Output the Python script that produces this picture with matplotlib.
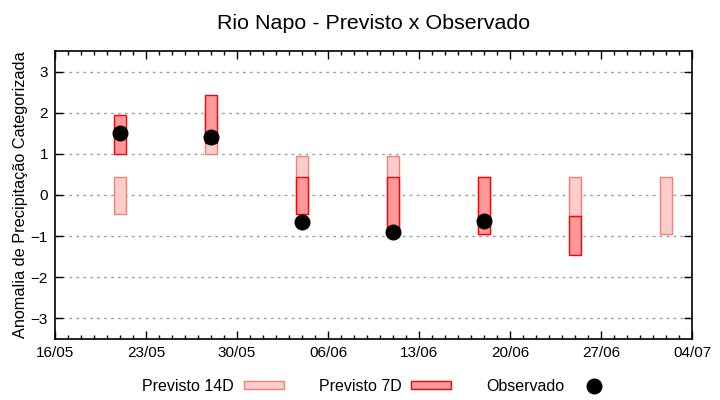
import matplotlib
matplotlib.use("Agg")
import matplotlib.pyplot as plt
import matplotlib.dates as mdates
from matplotlib.patches import Patch
from matplotlib.lines import Line2D
import pandas as pd

plt.rcParams['font.family'] = ['Liberation Sans', 'DejaVu Sans']

# semanas de previsao
datas = pd.to_datetime(["2021-05-21", "2021-05-28", "2021-06-04", "2021-06-11",
                        "2021-06-18", "2021-06-25", "2021-07-02"])

# previsao 14 dias (limite inferior / superior)
p14_min = [-0.45, 1.00, -0.45, -0.95, -0.95, -0.52, -0.95]
p14_max = [0.43, 1.95, 0.94, 0.94, 0.43, 0.43, 0.43]

# previsao 7 dias (ultima semana sem previsao)
p7_min = [1.00, 1.26, -0.45, -0.95, -0.96, -1.45]
p7_max = [1.95, 2.43, 0.43, 0.43, 0.43, -0.52]

# observado
obs_datas = datas[:5]
obs = [1.51, 1.41, -0.65, -0.91, -0.63]

xini = pd.Timestamp("2021-05-16")
xfim = pd.Timestamp("2021-07-04")

fig = plt.figure(figsize=(7.2, 4.0), dpi=100)
ax = fig.add_axes([0.0764, 0.1525, 0.8847, 0.72])

larg = 0.9
h14 = [a - b for a, b in zip(p14_max, p14_min)]
h7 = [a - b for a, b in zip(p7_max, p7_min)]

ax.bar(datas, h14, bottom=p14_min, width=larg, color='#ffcccc',
       edgecolor='#f08078', linewidth=1.0, zorder=2)
ax.bar(datas[:len(p7_min)], h7, bottom=p7_min, width=larg, color='#ff9999',
       edgecolor='#ff0000', linewidth=1.0, zorder=3)
ax.plot(obs_datas, obs, 'o', color='black', markersize=10.5, zorder=4)

ax.set_xlim(xini, xfim)
ax.set_ylim(-3.5, 3.5)
ax.set_yticks([-3, -2, -1, 0, 1, 2, 3])
ax.set_xticks(pd.date_range(xini, xfim, freq='7D'))
ax.xaxis.set_major_formatter(mdates.DateFormatter('%d/%m'))
ax.xaxis.set_minor_locator(mdates.DayLocator())

ax.yaxis.grid(True, color='#a0a0a0', linestyle=(0, (2, 3)), linewidth=1.0)
ax.set_axisbelow(True)
ax.tick_params(which='both', direction='in', top=True, right=True,
               labelsize=11, colors='black')
ax.tick_params(which='major', length=6, width=1, pad=5)
ax.tick_params(which='minor', length=3, width=1)
for s in ax.spines.values():
    s.set_linewidth(1.2)

ax.set_ylabel("Anomalia de Precipitação Categorizada", fontsize=11.7)
ax.yaxis.set_label_coords(-0.043, 0.5)
ax.set_title("Rio Napo - Previsto x Observado", fontsize=15.4, pad=16)

handles = [Patch(facecolor='#ffcccc', edgecolor='#f08078', linewidth=1.0),
           Patch(facecolor='#ff9999', edgecolor='#ff0000', linewidth=1.0),
           Line2D([], [], marker='o', linestyle='none', color='black', markersize=10.5)]
fig.legend(handles, ["Previsto 14D", "Previsto 7D", "Observado"],
           loc='center', bbox_to_anchor=(0.525, 0.034), ncol=3, frameon=False,
           markerfirst=False, fontsize=11.5, handlelength=2.5, handleheight=0.4,
           handletextpad=0.6, columnspacing=2.2)

fig.savefig("out.png", dpi=100)
